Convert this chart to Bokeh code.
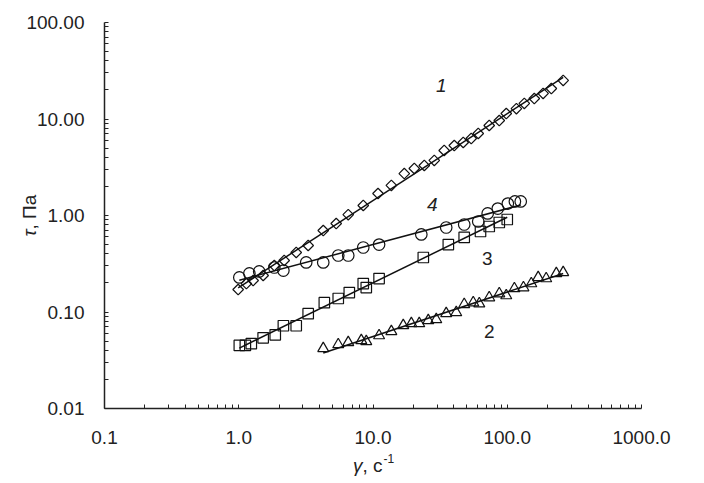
import numpy as np
from bokeh.plotting import figure
from bokeh.models import Range1d, FixedTicker, PrintfTickFormatter, Label
from bokeh.embed import file_html
from bokeh.resources import INLINE

# ---- data ----
# Series 1 (diamonds)
x1 = [0.99, 1.14, 1.28, 1.52, 1.84, 2.18, 2.68, 3.29, 4.26, 5.32, 6.54, 8.46, 10.9,
      13.7, 17.1, 20.3, 24.1, 28.6, 33.9, 40.3, 47.0, 53.9, 60.8, 73.4, 87.2, 98.3,
      117.0, 134.0, 159.0, 185.0, 213.0, 261.0]
y1 = [0.171, 0.197, 0.212, 0.239, 0.303, 0.342, 0.414, 0.489, 0.699, 0.826, 1.02, 1.27, 1.69,
      2.05, 2.72, 3.07, 3.30, 3.72, 4.72, 5.31, 5.71, 6.28, 7.08, 8.57, 9.64, 11.4,
      12.8, 14.5, 16.3, 18.4, 20.7, 25.1]

# Series 2 (triangles)
x2 = [4.26, 5.51, 6.54, 8.18, 8.91, 11.1, 13.7, 16.8, 19.3, 22.1, 25.8, 29.6, 35.1, 41.7,
      47.8, 55.8, 61.9, 73.4, 87.2, 98.3, 113.0, 132.0, 151.0, 170.0, 195.0, 232.0, 261.0]
y2 = [0.0419, 0.046, 0.0483, 0.0507, 0.0495, 0.057, 0.0628, 0.0725, 0.076, 0.076, 0.0816,
      0.0836, 0.0965, 0.0988, 0.120, 0.125, 0.122, 0.141, 0.155, 0.148, 0.175, 0.179,
      0.197, 0.228, 0.222, 0.251, 0.257]

# Series 3 (squares)
x3 = [1.01, 1.12, 1.24, 1.52, 1.87, 2.15, 2.68, 3.29, 4.34, 5.51, 6.66, 8.46, 8.91, 11.1,
      23.7, 36.4, 47.8, 63.2, 73.4, 87.2, 100.0]
y3 = [0.045, 0.045, 0.047, 0.054, 0.058, 0.072, 0.072, 0.096, 0.125, 0.138, 0.159, 0.197,
      0.179, 0.222, 0.367, 0.500, 0.592, 0.683, 0.769, 0.846, 0.909]

# Series 4 (circles)
x4 = [1.01, 1.20, 1.42, 1.84, 2.15, 3.18, 4.26, 5.51, 6.54, 8.46, 11.1, 22.9, 35.1, 47.8,
      60.8, 71.5, 85.0, 101.0, 114.0, 126.0]
y4 = [0.228, 0.251, 0.263, 0.289, 0.269, 0.326, 0.326, 0.385, 0.385, 0.466, 0.500, 0.636,
      0.751, 0.807, 0.867, 1.05, 1.18, 1.33, 1.40, 1.40]

curve_names = ["1", "2", "3", "4"]
x_ticks = [0.1, 1, 10, 100, 1000]
y_ticks = [0.01, 0.1, 1, 10, 100]

# ---- layout (pixels) ----
W, H = 704, 483
AX_L, AX_R, AX_T, AX_B = 104, 641, 22, 408     # where the axes' ends sit on the canvas
dec_x = (AX_R - AX_L) / 4.0
dec_y = (AX_B - AX_T) / 4.0
x_lo = 10 ** (np.log10(x_ticks[0]) - AX_L / dec_x)
x_hi = 10 ** (np.log10(x_ticks[-1]) + (W - AX_R) / dec_x)
y_hi = 10 ** (np.log10(y_ticks[-1]) + AX_T / dec_y)
y_lo = 10 ** (np.log10(y_ticks[0]) - (H - AX_B) / dec_y)

p = figure(width=W, height=H, x_axis_type="log", y_axis_type="log",
           x_range=Range1d(x_lo, x_hi), y_range=Range1d(y_lo, y_hi),
           output_backend="svg", toolbar_location=None,
           min_border_left=0, min_border_right=0, min_border_top=0, min_border_bottom=0)
p.outline_line_color = None
p.xgrid.visible = False
p.ygrid.visible = False
p.background_fill_color = "white"
p.border_fill_color = "white"

def minors(majors):
    out = []
    for m in majors[:-1]:
        out += [m * k for k in range(2, 10)]
    return out

p.xaxis.fixed_location = y_ticks[0]
p.yaxis.fixed_location = x_ticks[0]
p.xaxis.bounds = (x_ticks[0], x_ticks[-1])
p.yaxis.bounds = (y_ticks[0], y_ticks[-1])
p.xaxis.ticker = FixedTicker(ticks=x_ticks, minor_ticks=minors(x_ticks))
p.yaxis.ticker = FixedTicker(ticks=y_ticks, minor_ticks=minors(y_ticks))
p.xaxis.formatter = PrintfTickFormatter(format="%.1f")
p.yaxis.formatter = PrintfTickFormatter(format="%.2f")

for ax in (p.xaxis, p.yaxis):
    ax.axis_line_color = "#222222"
    ax.axis_line_width = 1.5
    ax.major_tick_in = 4
    ax.major_tick_out = 0
    ax.minor_tick_in = 4
    ax.minor_tick_out = 0
    ax.major_tick_line_color = "#222222"
    ax.minor_tick_line_color = "#222222"
    ax.major_label_text_font = "Liberation Sans"
    ax.major_label_text_font_size = "19px"
    ax.major_label_text_color = "#222222"
p.yaxis.major_label_standoff = 20
p.xaxis.major_label_standoff = 22

# ---- series ----
mk = dict(line_color="#111111", line_width=1.2, fill_alpha=0)

def fit_line(xs, ys):
    lx, ly = np.log10(xs), np.log10(ys)
    b, a = np.polyfit(lx, ly, 1)
    ex = np.array([min(xs), max(xs)])
    return ex, 10 ** (a + b * np.log10(ex))

for xs, ys in ((x1, y1), (x2, y2), (x3, y3), (x4, y4)):
    fx, fy = fit_line(xs, ys)
    p.line(fx, fy, line_color="#111111", line_width=1.5)

p.scatter(x1, y1, marker="square", angle=np.pi / 4, size=7.5, **mk)
p.scatter(x2, y2, marker="triangle", size=11, **mk)
p.scatter(x3, y3, marker="square", size=10.5, **mk)
p.scatter(x4, y4, marker="circle", size=11.5, **mk)

# curve numbers
label_pos = {"1": (32.2, 22.5, "italic"), "4": (27.7, 1.30, "italic"),
             "3": (71.0, 0.358, "normal"), "2": (73.4, 0.0628, "normal")}
for name in curve_names:
    lx, ly, st = label_pos[name]
    p.add_layout(Label(x=lx, y=ly, text=name, text_font="Liberation Sans",
                       text_font_size="19px", text_font_style=st, text_color="#222222",
                       text_align="center", text_baseline="middle"))

# axis titles (screen units: x from left, y from bottom of the canvas)
tf = dict(text_font="Liberation Sans", text_color="#222222", x_units="screen", y_units="screen")
p.add_layout(Label(x=29, y=H - 229, text="τ", text_font_style="italic", text_font_size="19px",
                   angle=np.pi / 2, text_align="right", text_baseline="middle", **tf))
p.add_layout(Label(x=29, y=H - 229, text=", Па", text_font_size="19px",
                   angle=np.pi / 2, text_align="left", text_baseline="middle", **tf))
p.add_layout(Label(x=362, y=H - 465, text="γ", text_font_style="italic", text_font_size="19px",
                   text_align="right", text_baseline="alphabetic", **tf))
p.add_layout(Label(x=362, y=H - 465, text=", с", text_font_size="19px",
                   text_align="left", text_baseline="alphabetic", **tf))
p.add_layout(Label(x=383, y=H - 458, text="-1", text_font_size="12px",
                   text_align="left", text_baseline="alphabetic", **tf))

open("out.html", "w").write(file_html(p, INLINE))
